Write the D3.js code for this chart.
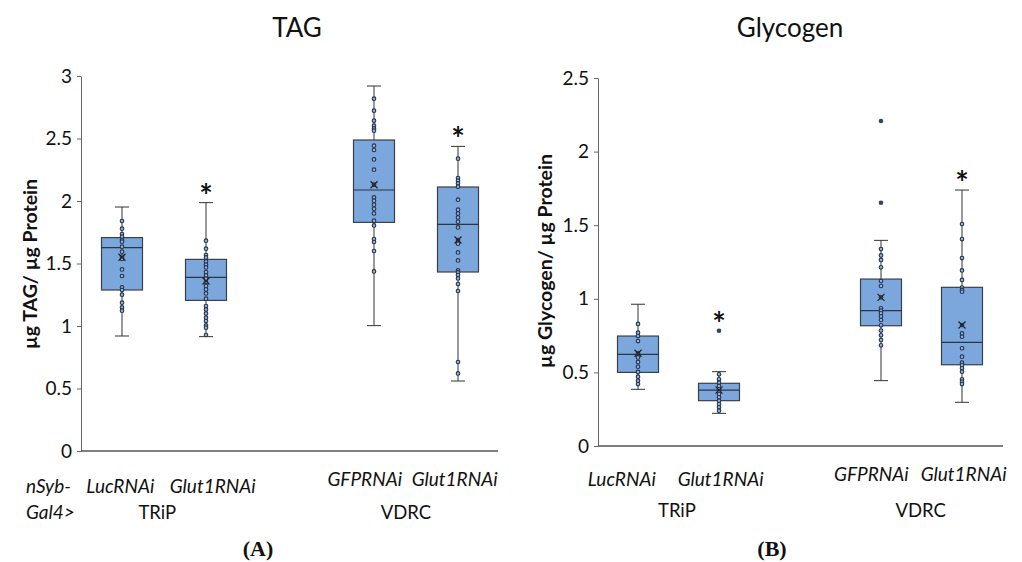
<!DOCTYPE html>
<meta charset="utf-8">
<style>
  body { margin: 0; background: #fff; }
  svg { font-family: Lato, "Open Sans", sans-serif; }
  text { fill: #111; }
</style>
<svg width="1022" height="562"></svg>
<script src="https://d3js.org/d3.v7.min.js"></script>
<script>
// categories
var lines = ["LucRNAi", "Glut1RNAi", "GFPRNAi", "Glut1RNAi"];
var slots = [0, 1, 3, 4];
var sources = ["TRiP", "VDRC"];

// box stats: [min, q1, median, q3, max, mean]
var tagBox = [
  [0.92, 1.288, 1.627, 1.707, 1.952, 1.55],
  [0.915, 1.205, 1.389, 1.533, 1.987, 1.36],
  [1.003, 1.829, 2.088, 2.488, 2.92, 2.13],
  [0.56, 1.432, 1.813, 2.112, 2.437, 1.688]
];
var glyBox = [
  [0.385, 0.5, 0.623, 0.747, 0.963, 0.63],
  [0.222, 0.308, 0.38, 0.426, 0.505, 0.38],
  [0.444, 0.817, 0.919, 1.134, 1.397, 1.01],
  [0.297, 0.552, 0.704, 1.078, 1.739, 0.822]
];

// individual points
var tagPts = [
  [1.84, 1.779, 1.736, 1.715, 1.688, 1.675, 1.635, 1.595, 1.555, 1.536, 1.453, 1.40, 1.309, 1.288, 1.251, 1.187, 1.149, 1.123],
  [1.683, 1.619, 1.568, 1.549, 1.517, 1.491, 1.469, 1.432, 1.405, 1.379, 1.352, 1.32, 1.293, 1.261, 1.219, 1.16, 1.133, 1.101, 1.067, 1.04, 1.005, 0.987, 0.928],
  [2.819, 2.723, 2.643, 2.603, 2.581, 2.563, 2.443, 2.408, 2.333, 2.251, 2.131, 2.029, 2.003, 1.971, 1.939, 1.901, 1.843, 1.805, 1.696, 1.672, 1.6, 1.437],
  [2.339, 2.184, 2.163, 2.141, 2.115, 2.011, 1.931, 1.901, 1.869, 1.835, 1.789, 1.688, 1.659, 1.589, 1.525, 1.445, 1.429, 1.408, 1.381, 1.336, 1.28, 0.712, 0.621]
];
var glyPts = [
  [0.829, 0.77, 0.747, 0.713, 0.63, 0.602, 0.571, 0.539, 0.503, 0.471, 0.444, 0.421],
  [0.487, 0.453, 0.43, 0.408, 0.385, 0.369, 0.353, 0.331, 0.308, 0.285, 0.263, 0.24],
  [1.338, 1.295, 1.264, 1.214, 1.121, 1.087, 1.01, 0.935, 0.919, 0.901, 0.879, 0.856, 0.82, 0.784, 0.752, 0.72, 0.684],
  [1.508, 1.406, 1.277, 1.193, 1.128, 1.076, 1.06, 1.048, 0.822, 0.765, 0.743, 0.664, 0.607, 0.566, 0.55, 0.528, 0.505, 0.453, 0.437, 0.421]
];
var tagOut = [[], [], [], []];
var glyOut = [[], [0.783], [2.208, 1.653], []];
var tagStar = [false, true, false, true];
var glyStar = [false, true, false, true];

var tagTicks = [0, 0.5, 1, 1.5, 2, 2.5, 3];
var glyTicks = [0, 0.5, 1, 1.5, 2, 2.5];

var svg = d3.select("svg");
var fmt = d3.format("~g");

function panel(o) {
  var g = svg.append("g");
  var y = d3.scaleLinear().domain(o.ydom).range(o.yrange);
  var x = d3.scaleLinear().domain([0, 4]).range(o.xrange);

  // title
  g.append("text").attr("x", o.titleX).attr("y", 37)
    .attr("text-anchor", "middle").attr("font-size", 26).text(o.title);

  // y axis
  var ax = g.append("g").attr("transform", "translate(" + o.axisX + ",0)")
    .call(d3.axisLeft(y).tickValues(o.ticks).tickFormat(fmt).tickSize(4).tickSizeOuter(0).tickPadding(5));
  ax.select(".domain").attr("stroke", "#666");
  ax.selectAll(".tick line").attr("stroke", "#666");
  ax.selectAll(".tick text").attr("font-size", 19).style("font-family", "Lato, sans-serif").attr("fill", "#111");

  // x axis line
  g.append("line").attr("x1", o.axisX).attr("x2", o.xEnd)
    .attr("y1", y(0)).attr("y2", y(0)).attr("stroke", "#555").attr("stroke-width", 1.3);

  // y title
  g.append("text")
    .attr("transform", "translate(" + o.ytitleX + "," + o.ytitleY + ") rotate(-90)")
    .attr("text-anchor", "middle").attr("font-size", 19.5).attr("font-weight", "bold")
    .text(o.ytitle);

  var bw = 41;
  o.box.forEach(function(b, i) {
    var cx = x(slots[i]);
    var bg = g.append("g");
    // whiskers
    bg.append("line").attr("x1", cx).attr("x2", cx).attr("y1", y(b[4])).attr("y2", y(b[3]))
      .attr("stroke", "#333");
    bg.append("line").attr("x1", cx).attr("x2", cx).attr("y1", y(b[1])).attr("y2", y(b[0]))
      .attr("stroke", "#333");
    [b[0], b[4]].forEach(function(v) {
      bg.append("line").attr("x1", cx - 7).attr("x2", cx + 7).attr("y1", y(v)).attr("y2", y(v))
        .attr("stroke", "#333");
    });
    // box
    bg.append("rect").attr("x", cx - bw / 2).attr("width", bw)
      .attr("y", y(b[3])).attr("height", y(b[1]) - y(b[3]))
      .attr("fill", "#7ba7dc").attr("stroke", "#3a3f48").attr("stroke-width", 1.2);
    bg.append("line").attr("x1", cx - bw / 2).attr("x2", cx + bw / 2)
      .attr("y1", y(b[2])).attr("y2", y(b[2])).attr("stroke", "#2e3440").attr("stroke-width", 1.2);
    // points
    bg.selectAll("circle.pt").data(o.pts[i]).enter().append("circle")
      .attr("class", "pt").attr("cx", cx).attr("cy", function(d) { return y(d); })
      .attr("r", 1.8).attr("fill", "#93b3dc").attr("stroke", "#25334d").attr("stroke-width", 1.1);
    bg.selectAll("circle.out").data(o.out[i]).enter().append("circle")
      .attr("class", "out").attr("cx", cx).attr("cy", function(d) { return y(d); })
      .attr("r", 2.3).attr("fill", "#34445f");
    // mean
    var my = y(b[5]);
    bg.append("path")
      .attr("d", "M" + (cx - 3.5) + "," + (my - 3.5) + "L" + (cx + 3.5) + "," + (my + 3.5) +
        "M" + (cx + 3.5) + "," + (my - 3.5) + "L" + (cx - 3.5) + "," + (my + 3.5))
      .attr("stroke", "#222").attr("stroke-width", 1.2);
    // significance
    if (o.star[i]) {
      var top = d3.max([b[4]].concat(o.out[i]));
      bg.append("text").attr("x", cx).attr("y", y(top) + 5)
        .attr("text-anchor", "middle").attr("font-size", 32).attr("font-weight", "bold").text("*");
    }
  });

  // category labels
  lines.forEach(function(l, i) {
    g.append("text").attr("x", x(o.labelPos[i])).attr("y", o.labelY[i])
      .attr("text-anchor", "middle").attr("font-size", 19).attr("font-style", "italic").text(l);
  });
  sources.forEach(function(s, i) {
    g.append("text").attr("x", x(o.srcPos[i])).attr("y", o.srcY)
      .attr("text-anchor", "middle").attr("font-size", 18.5).text(s);
  });

  g.append("text").attr("x", o.letterX).attr("y", 556)
    .attr("text-anchor", "middle").attr("font-size", 22).attr("font-weight", "bold")
    .style("font-family", "'Liberation Serif', 'DejaVu Serif', serif")
    .text(o.letter);
  return g;
}

var pa = panel({
  title: "TAG", titleX: 297, ydom: [0, 3], yrange: [451, 76], xrange: [122, 458],
  ticks: tagTicks, axisX: 81, xEnd: 498, ytitle: "µg TAG/ µg Protein", ytitleX: 37, ytitleY: 264,
  box: tagBox, pts: tagPts, out: tagOut, star: tagStar,
  labelPos: [-0.02, 1.08, 2.89, 3.96], labelY: [493, 493, 486, 486],
  srcPos: [0.42, 3.38], srcY: 519, letter: "(A)", letterX: 258
});
pa.append("text").attr("x", 26).attr("y", 493).attr("font-size", 19).attr("font-style", "italic").text("nSyb-");
pa.append("text").attr("x", 26).attr("y", 519).attr("font-size", 19).attr("font-style", "italic").text("Gal4>");

panel({
  title: "Glycogen", titleX: 790, ydom: [0, 2.5], yrange: [446, 78], xrange: [638, 962],
  ticks: glyTicks, axisX: 598, xEnd: 1003, ytitle: "µg Glycogen/ µg Protein", ytitleX: 552, ytitleY: 261,
  box: glyBox, pts: glyPts, out: glyOut, star: glyStar,
  labelPos: [-0.2, 1.02, 2.88, 4.02], labelY: [486, 486, 481, 481],
  srcPos: [0.48, 3.49], srcY: 517, letter: "(B)", letterX: 772
});
</script>
